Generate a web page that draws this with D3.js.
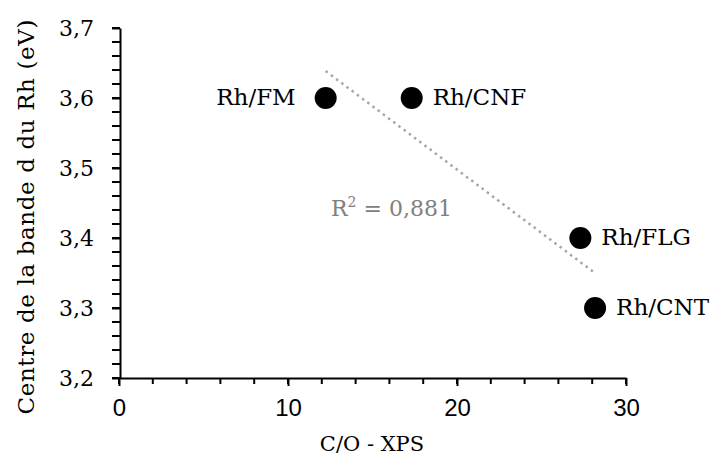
<!DOCTYPE html>
<html><head><meta charset="utf-8">
<script src="https://cdn.jsdelivr.net/npm/d3@7"></script>
<style>html,body{margin:0;padding:0;background:#fff}</style>
</head><body>
<svg id="c" width="715" height="463"></svg>
<script>
const names = ["Rh/FM", "Rh/CNF", "Rh/FLG", "Rh/CNT"];
const xValues = [12.23, 17.32, 27.3, 28.17];
const yValues = [3.6, 3.6, 3.4, 3.3];
const xTicks = [0, 10, 20, 30];
const yTicks = [3.2, 3.3, 3.4, 3.5, 3.6, 3.7];
const r2Label = "0,881";

const svg = d3.select("#c");
const x = d3.scaleLinear().domain([0, 30]).range([119, 626]);
const y = d3.scaleLinear().domain([3.2, 3.7]).range([378, 28]);
const serif = "'DejaVu Serif', serif";
const sans = "'Liberation Sans', Arial, sans-serif";
const fmt = v => d3.format(".1f")(v).replace(".", ",");

// minor ticks
const xMinor = d3.range(0, 31, 2);
svg.append("g").selectAll("line").data(xMinor).join("line")
  .attr("x1", d => x(d)).attr("x2", d => x(d))
  .attr("y1", y(3.2)).attr("y2", y(3.2) + 6)
  .attr("stroke", "#000").attr("stroke-width", 2);
const yMinor = d3.range(0, 26).map(i => 3.2 + i * 0.02);
svg.append("g").selectAll("line").data(yMinor).join("line")
  .attr("x1", x(0) + 1).attr("x2", x(0) - 7)
  .attr("y1", d => y(d)).attr("y2", d => y(d))
  .attr("stroke", "#000").attr("stroke-width", 2);

const gx = svg.append("g").attr("transform", "translate(0,378)")
  .call(d3.axisBottom(x).tickValues(xTicks).tickSize(8).tickPadding(13).tickSizeOuter(0).tickFormat(d3.format("d")));
gx.select(".domain").attr("stroke", "#000").attr("stroke-width", 2);
gx.selectAll("line").attr("stroke", "#000").attr("stroke-width", 2);
gx.selectAll("text").attr("font-family", sans).attr("font-size", 24).attr("fill", "#000");

const gy = svg.append("g").attr("transform", "translate(120,0)")
  .call(d3.axisLeft(y).tickValues(yTicks).tickSize(8).tickPadding(18).tickSizeOuter(0).tickFormat(fmt));
gy.select(".domain").attr("stroke", "#000").attr("stroke-width", 2);
gy.selectAll("line").attr("stroke", "#000").attr("stroke-width", 2);
gy.selectAll("text").attr("font-family", serif).attr("font-size", 22).attr("fill", "#000");

// trend line (least squares)
const mx = d3.mean(xValues), my = d3.mean(yValues);
const sxy = d3.sum(xValues, (v, i) => (v - mx) * (yValues[i] - my));
const sxx = d3.sum(xValues, v => (v - mx) ** 2);
const slope = sxy / sxx, icpt = my - slope * mx;
const x0 = d3.min(xValues), x1 = d3.max(xValues);
svg.append("line")
  .attr("x1", x(x0)).attr("y1", y(icpt + slope * x0))
  .attr("x2", x(x1)).attr("y2", y(icpt + slope * x1))
  .attr("stroke", "#a6a6a6").attr("stroke-width", 2.5).attr("stroke-dasharray", "2.5,4");

// points
const data = names.map((n, i) => ({n, x: xValues[i], y: yValues[i]}));
svg.selectAll("circle.pt").data(data).join("circle")
  .attr("cx", d => x(d.x)).attr("cy", d => y(d.y)).attr("r", 11).attr("fill", "#000");

// labels
const labelSide = ["left", "right", "right", "right"];
svg.selectAll("text.lbl").data(data).join("text")
  .attr("x", (d, i) => labelSide[i] === "left" ? x(d.x) - 30 : x(d.x) + 21)
  .attr("y", d => y(d.y) + 7)
  .attr("text-anchor", (d, i) => labelSide[i] === "left" ? "end" : "start")
  .attr("font-family", serif).attr("font-size", 23).attr("fill", "#000")
  .text(d => d.n);

// R2
const rt = svg.append("text").attr("x", 331).attr("y", 216)
  .attr("font-family", serif).attr("font-size", 22).attr("fill", "#808080");
rt.append("tspan").text("R");
rt.append("tspan").attr("font-size", 14).attr("dy", -9).text("2");
rt.append("tspan").attr("dy", 9).text(" = " + r2Label);

// axis titles
svg.append("text").attr("x", 372).attr("y", 451).attr("text-anchor", "middle")
  .attr("font-family", serif).attr("font-size", 21).text("C/O - XPS");
svg.append("text").attr("transform", "translate(34,217) rotate(-90)").attr("text-anchor", "middle")
  .attr("font-family", serif).attr("font-size", 23).attr("textLength", 395).attr("lengthAdjust", "spacing")
  .text("Centre de la bande d du Rh (eV)");
</script>
</body></html>
